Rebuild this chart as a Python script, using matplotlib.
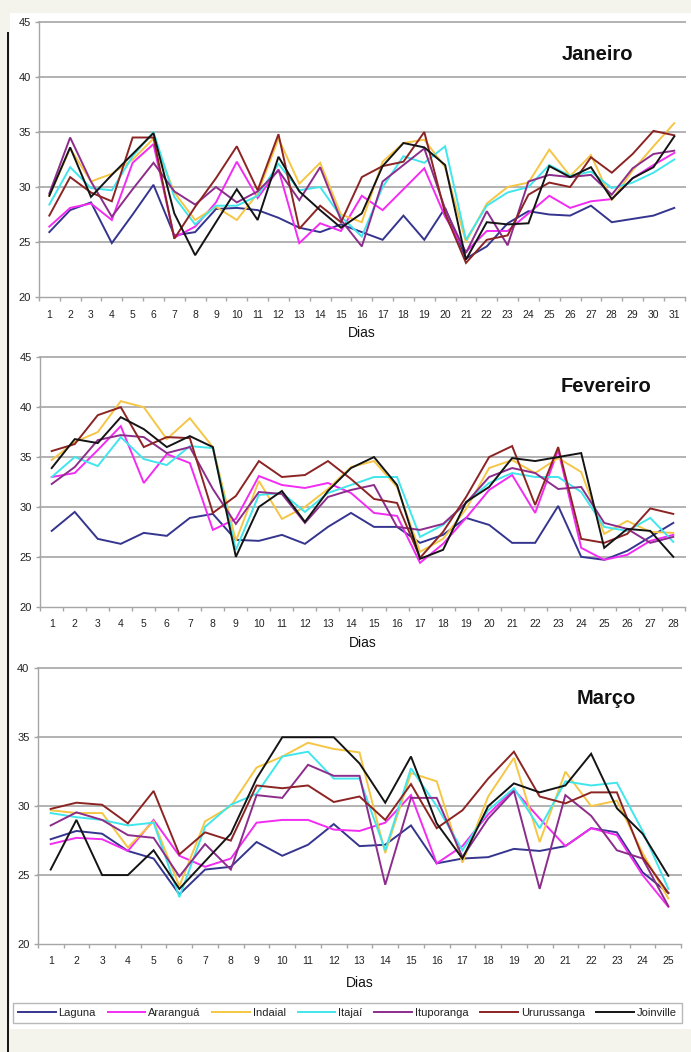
import matplotlib
matplotlib.use('Agg')
import matplotlib.pyplot as plt
from matplotlib.patches import Rectangle
from matplotlib.lines import Line2D

plt.rcParams['font.family'] = ['Liberation Sans', 'DejaVu Sans']

# ---------------- data ----------------
estacoes = ['Laguna', 'Araranguá', 'Indaial', 'Itajaí', 'Ituporanga', 'Ururussanga', 'Joinville']
cores = ['#35358f', '#f22cf2', '#f5c645', '#40e6ec', '#8c2d8c', '#8c2424', '#141414']

dias_jan = list(range(1, 32))
dias_fev = list(range(1, 29))
dias_mar = list(range(1, 26))

laguna_jan = [25.9, 27.9, 28.6, 24.9, 27.5, 30.2, 25.6, 25.9, 28.0, 28.1, 27.9, 27.2, 26.3, 25.9, 26.6, 25.9,
              25.2, 27.4, 25.2, 28.1, 23.5, 24.6, 26.7, 27.8, 27.5, 27.4, 28.3, 26.8, 27.1, 27.4, 28.1]
ararangua_jan = [26.4, 28.1, 28.5, 27.0, 32.2, 33.9, 25.4, 26.4, 28.6, 32.3, 29.0, 31.6, 24.9, 26.7, 26.0, 29.2,
                 27.9, 29.8, 31.7, 27.3, 24.1, 26.0, 26.0, 27.6, 29.2, 28.1, 28.7, 28.9, 30.8, 32.0, 33.1]
indaial_jan = [29.2, 33.5, 30.5, 31.2, 32.5, 34.4, 29.5, 27.0, 28.2, 27.0, 29.4, 34.4, 30.3, 32.2, 27.5, 26.8,
               32.3, 34.0, 34.3, 31.8, 25.0, 28.5, 30.0, 30.4, 33.4, 31.0, 32.9, 28.8, 31.5, 33.7, 35.8]
itajai_jan = [28.4, 31.8, 29.9, 29.7, 32.8, 35.0, 29.1, 26.6, 28.3, 28.3, 29.2, 32.1, 29.7, 30.0, 27.3, 25.5,
              30.0, 32.8, 32.2, 33.7, 25.2, 28.3, 29.5, 30.0, 32.0, 31.0, 31.4, 29.9, 30.4, 31.3, 32.5]
ituporanga_jan = [29.4, 34.5, 30.5, 27.3, 29.8, 32.2, 29.6, 28.4, 30.0, 28.6, 29.6, 31.5, 28.8, 31.8, 27.0, 24.6,
                  30.5, 32.0, 33.5, 28.0, 24.0, 27.8, 24.7, 30.5, 31.1, 30.9, 31.1, 29.3, 31.7, 33.0, 33.3]
ururussanga_jan = [27.4, 30.9, 29.5, 28.7, 34.5, 34.5, 25.3, 28.2, 30.8, 33.7, 29.7, 34.8, 26.2, 28.3, 26.8, 30.9,
                   31.9, 32.3, 35.0, 27.6, 23.1, 25.2, 25.6, 29.3, 30.4, 30.0, 32.7, 31.3, 33.0, 35.1, 34.7]
joinville_jan = [29.2, 33.6, 29.1, 31.1, 33.0, 34.9, 27.6, 23.8, 26.8, 29.8, 27.0, 32.75, 29.6, 27.9, 26.3, 27.6,
                 31.9, 34.0, 33.6, 32.0, 23.4, 26.8, 26.6, 26.7, 31.9, 30.9, 31.8, 28.9, 30.8, 31.8, 34.6]

laguna_fev = [27.6, 29.5, 26.8, 26.3, 27.4, 27.1, 28.9, 29.3, 26.7, 26.6, 27.2, 26.3, 28.0, 29.4, 28.0, 28.0,
              26.4, 27.2, 28.9, 28.2, 26.4, 26.4, 30.1, 25.0, 24.7, 25.6, 27.0, 28.4]
ararangua_fev = [33.0, 33.4, 35.7, 38.1, 32.4, 35.3, 34.4, 27.7, 28.8, 33.1, 32.2, 31.9, 32.4, 31.4, 29.4, 29.1,
                 24.4, 26.3, 28.9, 31.7, 33.2, 29.4, 35.7, 25.9, 24.7, 25.2, 26.6, 27.2]
indaial_fev = [34.7, 36.5, 37.5, 40.6, 40.0, 36.8, 38.9, 36.0, 26.6, 32.6, 28.8, 30.0, 31.8, 34.0, 34.6, 32.0,
               25.5, 26.8, 29.8, 33.9, 34.7, 33.4, 34.9, 33.5, 27.3, 28.6, 27.5, 27.4]
itajai_fev = [33.0, 35.0, 34.1, 37.0, 34.8, 34.2, 36.1, 35.9, 25.7, 31.2, 31.4, 29.5, 31.4, 32.2, 33.0, 33.0,
              27.0, 28.2, 30.4, 32.4, 33.4, 33.0, 33.0, 31.5, 28.0, 27.6, 28.9, 26.5]
ituporanga_fev = [32.3, 34.0, 36.7, 37.2, 37.0, 35.4, 36.0, 31.8, 28.3, 31.5, 31.3, 28.4, 31.0, 31.7, 32.2, 28.0,
                  27.7, 28.3, 30.4, 33.0, 33.9, 33.4, 31.8, 32.0, 28.4, 27.8, 26.4, 27.0]
ururussanga_fev = [35.6, 36.3, 39.2, 40.0, 36.0, 37.0, 36.9, 29.4, 31.1, 34.6, 33.0, 33.2, 34.6, 32.8, 30.8, 30.4,
                   24.9, 27.5, 31.0, 35.0, 36.1, 30.2, 36.0, 26.8, 26.4, 27.3, 29.85, 29.3]
joinville_fev = [33.9, 36.8, 36.4, 39.0, 37.8, 36.0, 37.1, 36.0, 25.0, 30.0, 31.6, 28.5, 31.6, 33.9, 35.0, 32.2,
                 24.8, 25.7, 30.5, 32.0, 34.9, 34.6, 35.0, 35.4, 25.9, 27.8, 27.6, 25.0]

laguna_mar = [27.6, 28.2, 28.0, 26.75, 26.2, 23.6, 25.4, 25.6, 27.4, 26.4, 27.2, 28.7, 27.1, 27.2, 28.6, 25.85,
              26.2, 26.3, 26.9, 26.75, 27.1, 28.4, 28.1, 25.2, 23.7]
ararangua_mar = [27.25, 27.7, 27.6, 26.75, 29.0, 26.4, 25.6, 26.2, 28.8, 29.0, 29.0, 28.3, 28.2, 28.8, 30.8, 25.85,
                 27.1, 29.4, 31.2, 29.1, 27.1, 28.4, 27.9, 25.0, 22.7]
indaial_mar = [29.7, 29.5, 29.5, 27.0, 28.9, 24.2, 28.9, 30.0, 32.8, 33.6, 34.6, 34.15, 33.9, 26.6, 32.4, 31.8,
               25.9, 30.7, 33.5, 27.4, 32.5, 30.0, 30.4, 26.6, 23.3]
itajai_mar = [29.5, 29.2, 29.0, 28.6, 28.8, 23.4, 28.5, 30.1, 30.9, 33.6, 33.95, 32.0, 32.0, 26.8, 32.75, 30.0,
              26.8, 29.7, 31.3, 28.4, 31.8, 31.5, 31.7, 28.2, 24.0]
ituporanga_mar = [28.6, 29.55, 29.0, 27.9, 27.7, 24.9, 27.25, 25.4, 30.8, 30.6, 33.0, 32.2, 32.2, 24.3, 30.6, 30.6,
                  26.3, 29.1, 31.1, 24.0, 30.8, 29.3, 26.8, 26.2, 22.75]
ururussanga_mar = [29.8, 30.25, 30.1, 28.75, 31.1, 26.5, 28.1, 27.5, 31.5, 31.3, 31.5, 30.3, 30.7, 29.0, 31.6, 28.4,
                   29.7, 32.0, 33.95, 30.7, 30.2, 31.0, 31.0, 26.3, 23.7]
joinville_mar = [25.4, 29.0, 25.0, 25.0, 26.8, 24.0, 26.0, 28.0, 32.0, 35.0, 35.0, 35.0, 33.1, 30.25, 33.6, 28.75,
                 26.2, 30.0, 31.65, 31.0, 31.5, 33.8, 29.85, 28.0, 24.95]

meses = ['Janeiro', 'Fevereiro', 'Março']
yrange = [(20, 45), (20, 45), (20, 40)]

# ---------------- figure ----------------
W, H = 691, 1052
fig = plt.figure(figsize=(W / 100, H / 100), dpi=100)
fig.patch.set_facecolor('#f4f3ec')


def fx(px):
    return px / W


def fy(py):
    return 1 - py / H


fig.add_artist(Rectangle((fx(10), fy(1029)), fx(W - 10), (1029 - 13) / H,
                         transform=fig.transFigure, facecolor='white', edgecolor='none', zorder=0))
fig.add_artist(Line2D([fx(7.5), fx(7.5)], [fy(33), 0], transform=fig.transFigure,
                      color='#111111', lw=1.4, zorder=1))

# pixel boxes: left, right, top(y of max), bottom(y of min)
boxes = [(38.9, 684.7, 22, 297), (40.2, 684.8, 357.3, 606.7), (37.8, 681.2, 668.3, 944)]
titulos_pos = [(597, 55), (606, 387), (606, 698)]
dias_label_y = [333, 643, 983]

dados = [
    [laguna_jan, ararangua_jan, indaial_jan, itajai_jan, ituporanga_jan, ururussanga_jan, joinville_jan],
    [laguna_fev, ararangua_fev, indaial_fev, itajai_fev, ituporanga_fev, ururussanga_fev, joinville_fev],
    [laguna_mar, ararangua_mar, indaial_mar, itajai_mar, ituporanga_mar, ururussanga_mar, joinville_mar],
]
dias_all = [dias_jan, dias_fev, dias_mar]

grid_c = '#b2b2b2'
handles = None
for i in range(3):
    l, r, t, b = boxes[i]
    ax = fig.add_axes([fx(l), fy(b), (r - l) / W, (b - t) / H])
    ax.set_facecolor('none')
    dias = dias_all[i]
    lo, hi = yrange[i]
    for yv in range(lo + 5, hi + 1, 5):
        ax.axhline(yv, color=grid_c, lw=1.4, clip_on=False, zorder=1)
    hs = []
    for serie, cor, nome in zip(dados[i], cores, estacoes):
        h, = ax.plot(dias, serie, color=cor, lw=1.4, label=nome, zorder=3, solid_joinstyle='miter')
        hs.append(h)
    handles = hs
    ax.set_xlim(0.5, len(dias) + 0.5)
    ax.set_ylim(lo, hi)
    for s in ['top', 'right']:
        ax.spines[s].set_visible(False)
    for s in ['left', 'bottom']:
        ax.spines[s].set_color('#a6a6a6')
        ax.spines[s].set_linewidth(1.0)
    ax.set_yticks(range(lo, hi + 1, 5))
    ax.set_xticks(dias)
    ax.set_xticks([d + 0.5 for d in [0] + dias], minor=True)
    ax.tick_params(axis='x', which='major', length=0, pad=9, labelsize=7.5, labelcolor='#222222')
    ax.tick_params(axis='x', which='minor', length=3, color='#a6a6a6', width=1)
    ax.tick_params(axis='y', which='major', length=3, color='#a6a6a6', width=1, pad=3,
                   labelsize=8, labelcolor='#222222')
    fig.text(fx((l + r) / 2), fy(dias_label_y[i]), 'Dias', ha='center', va='center', fontsize=10,
             color='#111111')
    tx, ty = titulos_pos[i]
    fig.text(fx(tx), fy(ty), meses[i], ha='center', va='center', fontsize=14.5, fontweight='bold',
             color='#111111')

leg = fig.legend(handles, estacoes, loc='lower left',
                 bbox_to_anchor=(fx(13), fy(1023), fx(682 - 13), (1023 - 998) / H),
                 ncol=7, mode='expand', fontsize=8, handlelength=3.4, handletextpad=0.25,
                 borderaxespad=0, frameon=True, fancybox=False, edgecolor='#a6a6a6',
                 borderpad=0.45, columnspacing=0.8)
leg.get_frame().set_linewidth(1.0)
for txt in leg.get_texts():
    txt.set_color('#222222')

fig.savefig('out.png', dpi=100, facecolor=fig.get_facecolor())
